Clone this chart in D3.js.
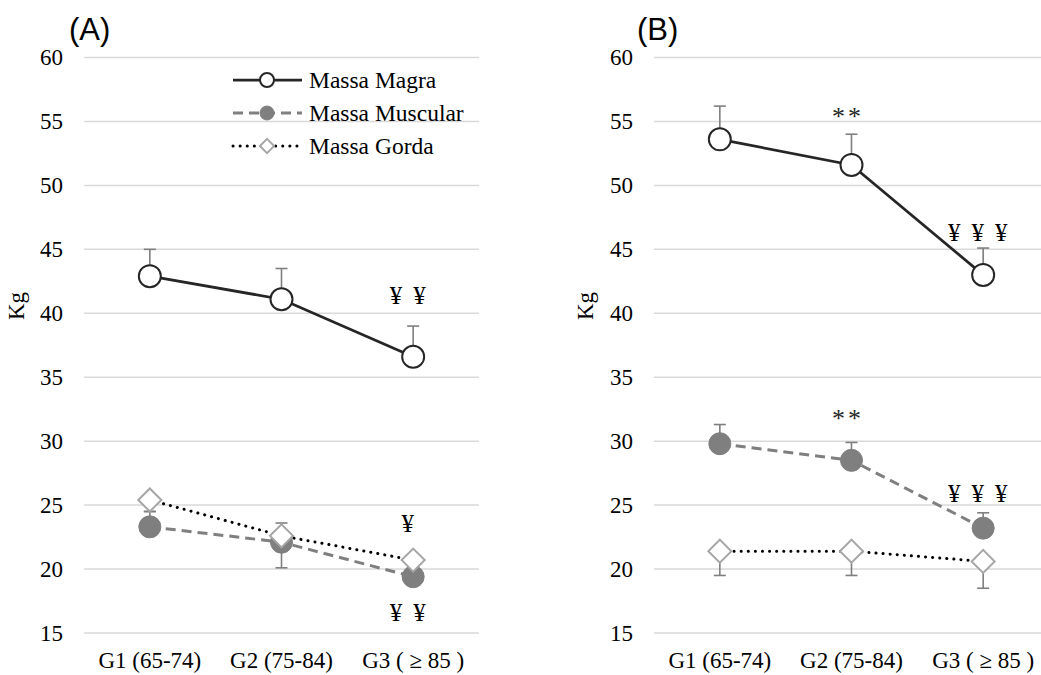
<!DOCTYPE html>
<html><head><meta charset="utf-8">
<script src="https://cdn.jsdelivr.net/npm/d3@7"></script>
<style>body{margin:0;background:#fff;} svg{display:block;}</style>
</head><body>
<svg id="c" width="1041" height="675"></svg>
<script>
const categories = ["G1 (65-74)", "G2 (75-84)", "G3 ( \u2265 85 )"];
const yTicks = [15, 20, 25, 30, 35, 40, 45, 50, 55, 60];
const seriesNames = ["Massa Magra", "Massa Muscular", "Massa Gorda"];

// Panel A
const magraA = [42.9, 41.1, 36.6];
const magraAErr = [2.1, 2.4, 2.4];       // upward
const muscularA = [23.3, 22.1, 19.4];
const muscularAErr = [1.2, 1.5, 0.8];    // upward
const gordaA = [25.4, 22.6, 20.7];
const gordaAErr = [0.9, 2.5, 1.0];       // downward
// Panel B
const magraB = [53.6, 51.6, 43.0];
const magraBErr = [2.6, 2.4, 2.1];
const muscularB = [29.8, 28.5, 23.2];
const muscularBErr = [1.5, 1.4, 1.2];
const gordaB = [21.4, 21.4, 20.6];
const gordaBErr = [1.9, 1.9, 2.1];

// annotations: [categoryIndex, baseline value, text]
const annotA = [[2, 40.74, "\u00a5\u00a5"], [2, 22.93, "\u00a5"], [2, 15.9, "\u00a5\u00a5"]];
const annotB = [[1, 54.73, "**"], [1, 31.13, "**"], [2, 45.66, "\u00a5\u00a5\u00a5"], [2, 25.23, "\u00a5\u00a5\u00a5"]];

const svg = d3.select("#c");
const serif = "'Liberation Serif','Times New Roman',serif";
const y = d3.scaleLinear().domain([15, 60]).range([633, 57.5]);

const sq = d3.symbol(d3.symbolSquare, 265)();
const sqSmall = d3.symbol(d3.symbolSquare, 100)();

function panel(x, data, label, labelX, kgX, annots, legend) {
  const g = svg.append("g");
  const [x0, x1] = x.range();
  g.selectAll(".grid").data(yTicks).join("line")
    .attr("x1", x0).attr("x2", x1)
    .attr("y1", d => y(d)).attr("y2", d => y(d))
    .attr("stroke", "#d9d9d9").attr("stroke-width", 1.5);
  const ya = g.append("g").attr("transform", `translate(${x0},0)`)
    .call(d3.axisLeft(y).tickValues(yTicks).tickSize(0).tickPadding(21))
    .attr("font-family", serif).attr("font-size", 23);
  ya.select(".domain").remove();
  ya.selectAll("text").attr("font-family", serif).attr("font-size", 23).attr("fill", "#000");
  const xa = g.append("g").attr("transform", `translate(0,633)`)
    .call(d3.axisBottom(x).tickSize(0))
    .attr("font-family", serif).attr("font-size", 23);
  xa.select(".domain").remove();
  xa.selectAll("text").attr("font-family", serif).attr("font-size", 23).attr("fill", "#000")
    .attr("dy", null).attr("y", 35);
  g.append("text").attr("transform", `translate(${kgX},306) rotate(-90)`)
    .attr("text-anchor", "middle").attr("font-family", serif).attr("font-size", 23)
    .text("Kg");
  g.append("text").attr("x", labelX).attr("y", 40)
    .attr("font-family", "'Liberation Sans',Arial,sans-serif").attr("font-size", 31)
    .text(label);

  const cx = i => x(categories[i]) + x.bandwidth() / 2;
  data.forEach(s => {
    s.vals.forEach((v, i) => {
      const e = s.err[i];
      const end = s.dir > 0 ? v + e : v - e;
      g.append("line").attr("x1", cx(i)).attr("x2", cx(i))
        .attr("y1", y(v)).attr("y2", y(end))
        .attr("stroke", "#7f7f7f").attr("stroke-width", 1.6);
      g.append("line").attr("x1", cx(i) - 6).attr("x2", cx(i) + 6)
        .attr("y1", y(end)).attr("y2", y(end))
        .attr("stroke", "#7f7f7f").attr("stroke-width", 1.6);
    });
  });
  data.forEach(s => {
    const line = d3.line().x((d, i) => cx(i)).y(d => y(d));
    g.append("path").attr("d", line(s.vals)).attr("fill", "none")
      .attr("stroke", s.stroke).attr("stroke-width", s.width)
      .attr("stroke-dasharray", s.dash).attr("stroke-linecap", s.cap);
  });
  data.forEach(s => {
    s.vals.forEach((v, i) => drawMarker(g, s.marker, cx(i), y(v), false));
  });
  annots.forEach(([i, v, t]) => {
    const star = t.startsWith("*");
    g.append("text").attr("x", star ? cx(i) - 5 + 1.5 : cx(i)).attr("y", y(v))
      .attr("text-anchor", "middle").attr("font-family", serif)
      .attr("font-size", star ? 26 : 25)
      .attr("letter-spacing", star ? 3 : 11)
      .attr("fill", star ? "#262626" : "#000")
      .text(t);
  });
  if (legend) {
    data.forEach((s, k) => {
      const ly = 80 + k * 33;
      g.append("line").attr("x1", 233).attr("x2", 302).attr("y1", ly).attr("y2", ly)
        .attr("stroke", s.stroke).attr("stroke-width", s.width)
        .attr("stroke-dasharray", s.dash).attr("stroke-linecap", s.cap);
      drawMarker(g, s.marker, 267, ly, true);
      g.append("text").attr("x", 309).attr("y", ly + 7.5)
        .attr("font-family", serif).attr("font-size", 23.5).text(seriesNames[k]);
    });
  }
}

function drawMarker(g, type, px, py, small) {
  if (type === "open") {
    g.append("circle").attr("cx", px).attr("cy", py).attr("r", small ? 7 : 11)
      .attr("fill", "#fff").attr("stroke", "#262626").attr("stroke-width", 2);
  } else if (type === "filled") {
    g.append("circle").attr("cx", px).attr("cy", py).attr("r", small ? 7 : 11)
      .attr("fill", "#7f7f7f").attr("stroke", "#7f7f7f").attr("stroke-width", 1);
  } else {
    g.append("path").attr("d", small ? sqSmall : sq)
      .attr("transform", `translate(${px},${py}) rotate(45)`)
      .attr("fill", "#fff").attr("stroke", "#a6a6a6").attr("stroke-width", 2);
  }
}

const style = {
  magra: { stroke: "#262626", width: 2.75, dash: null, cap: "butt", marker: "open" },
  muscular: { stroke: "#7f7f7f", width: 3, dash: "10,6", cap: "butt", marker: "filled" },
  gorda: { stroke: "#000", width: 3, dash: "0.1,7", cap: "round", marker: "diamond" }
};

const xA = d3.scaleBand().domain(categories).range([84, 479]);
const xB = d3.scaleBand().domain(categories).range([654, 1049]);

panel(xA, [
  { ...style.magra, vals: magraA, err: magraAErr, dir: 1 },
  { ...style.muscular, vals: muscularA, err: muscularAErr, dir: 1 },
  { ...style.gorda, vals: gordaA, err: gordaAErr, dir: -1 }
], "(A)", 69, 24, annotA, true);

panel(xB, [
  { ...style.magra, vals: magraB, err: magraBErr, dir: 1 },
  { ...style.muscular, vals: muscularB, err: muscularBErr, dir: 1 },
  { ...style.gorda, vals: gordaB, err: gordaBErr, dir: -1 }
], "(B)", 637, 593, annotB, false);
</script>
</body></html>
